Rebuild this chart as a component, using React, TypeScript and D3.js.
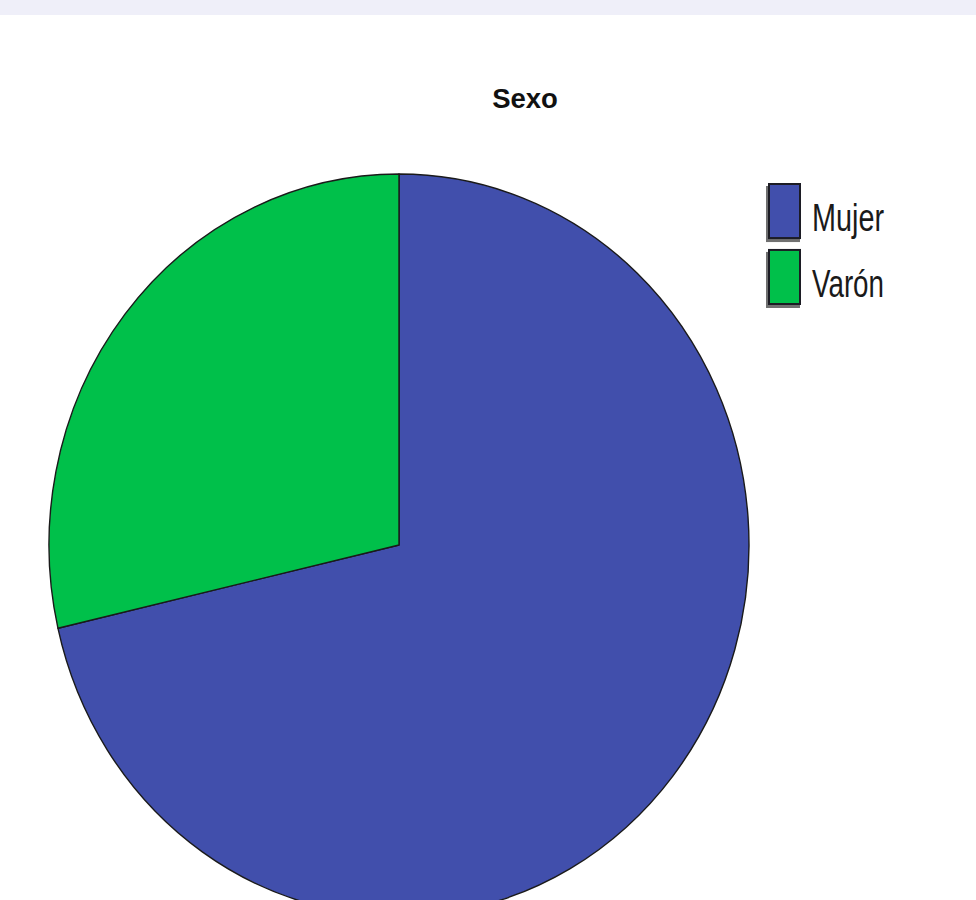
import React from "react";
import * as d3 from "d3";

const categories = ["Mujer", "Varón"];
const values = [71.4, 28.6];
const colors = ["#414fac", "#00c04a"];
const title = "Sexo";

export default function App() {
  const W = 976, H = 900;
  const cx = 399, cy = 545, rx = 350, ry = 371;
  const pie = d3.pie<number>().sort(null).startAngle(0).endAngle(2 * Math.PI);
  const arcs = pie(values);
  const arc = d3.arc<d3.PieArcDatum<number>>().innerRadius(0).outerRadius(rx);
  const legendY = d3.scaleBand<string>().domain(categories).range([183, 305]).paddingInner(0.15);

  return (
    <svg width={W} height={H} style={{ position: "absolute", left: 0, top: 0, background: "#ffffff" }}
      fontFamily="'Liberation Sans', Arial, sans-serif">
      <rect x={0} y={0} width={W} height={15} fill="#efeff9" />
      <text x={525} y={108} textAnchor="middle" fontSize={27.5} fontWeight="bold" fill="#111">{title}</text>
      <g transform={`translate(${cx},${cy}) scale(1,${ry / rx})`}>
        {arcs.map((a, i) => (
          <path key={categories[i]} d={arc(a) || ""} fill={colors[i]} stroke="#1a1a1a" strokeWidth={1.4}
            vectorEffect="non-scaling-stroke" strokeLinejoin="round" />
        ))}
      </g>
      {categories.map((c, i) => {
        const y = legendY(c)!;
        const h = legendY.bandwidth();
        return (
          <g key={c}>
            <rect x={766} y={y + 3} width={34} height={h} fill="#707070" />
            <rect x={769} y={y + 1} width={31} height={h - 2} fill={colors[i]} stroke="#1c1c24" strokeWidth={2} />
            <text x={812} y={y + h - 8} fontSize={38} fill="#1a1a1a" textLength={72} lengthAdjust="spacingAndGlyphs">{c}</text>
          </g>
        );
      })}
    </svg>
  );
}
